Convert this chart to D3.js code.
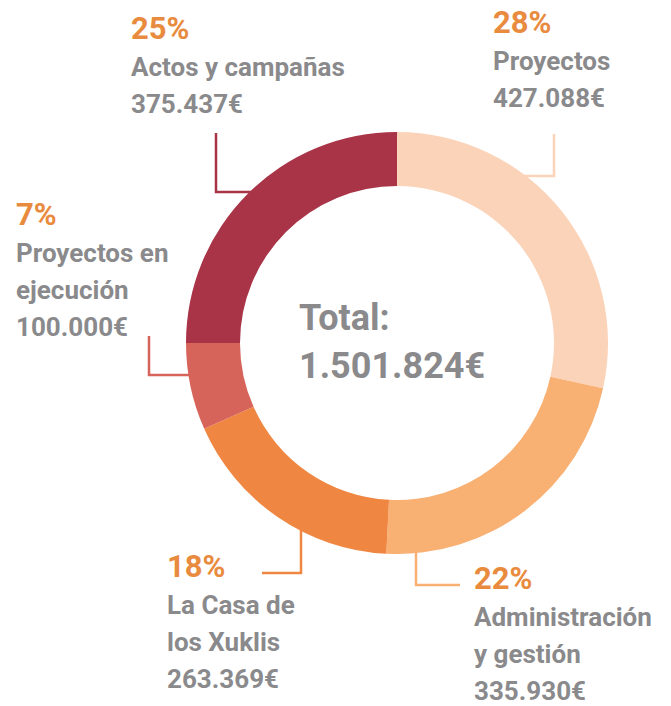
<!doctype html>
<html>
<head>
<meta charset="utf-8">
<title>Presupuesto</title>
<style>
  body { margin:0; background:#fff; }
  svg { display:block; }
  text { font-family: Roboto, "Open Sans", sans-serif; font-weight:700; }
  .pct { fill:#e98b3e; font-size:31px; }
  .lbl { fill:#8a8a8c; font-size:26px; }
  .total { fill:#8a8a8c; font-size:36px; }
</style>
<script src="https://d3js.org/d3.v7.min.js"></script>
</head>
<body>
<svg id="chart" width="671" height="706"></svg>
<script>

// datos
var categories = ["Proyectos", "Administración y gestión", "La Casa de los Xuklis", "Proyectos en ejecución", "Actos y campañas"]
var nameLines = [["Proyectos"], ["Administración", "y gestión"], ["La Casa de", "los Xuklis"], ["Proyectos en", "ejecución"], ["Actos y campañas"]]
var amounts = [427088, 335930, 263369, 100000, 375437]
var colors = ["#fbd3b9", "#f9b073", "#ef8641", "#d6645a", "#a93447"]

// posiciones de etiquetas y líneas guía
var labelPos = [[493, 33], [474, 589], [167, 577], [16, 225], [131, 39]]
var leaders = [
  [[554, 134], [554, 176], [500, 176]],
  [[416, 530], [416, 585], [460, 585]],
  [[301, 520], [301, 573], [262, 573]],
  [[149, 336], [149, 375], [200, 375]],
  [[216, 133], [216, 192], [260, 192]]
]
var lineH = 37

var cx = 397, cy = 343
var svg = d3.select("#chart")

var es = d3.formatLocale({ decimal: ",", thousands: ".", grouping: [3], currency: ["", "€"] })
var euro = es.format("$,.0f")
var total = d3.sum(amounts)

// lineas guia (debajo del anillo)
var line = d3.line()
svg.append("g").selectAll("path")
   .data(leaders)
   .enter()
   .append("path")
   .attr("d", function(d){ return line(d) })
   .attr("fill", "none")
   .attr("stroke", function(d,i){ return colors[i] })
   .attr("stroke-width", 2.5)

// anillo
var pie = d3.pie().sort(null).value(function(d){ return d })
var arc = d3.arc().innerRadius(157).outerRadius(211)

svg.append("g")
   .attr("transform", "translate(" + cx + "," + cy + ")")
   .selectAll("path")
   .data(pie(amounts))
   .enter()
   .append("path")
   .attr("d", arc)
   .attr("fill", function(d,i){ return colors[i] })

// total
svg.append("text").attr("class", "total").attr("x", 299).attr("y", 330).text("Total:")
svg.append("text").attr("class", "total").attr("x", 299).attr("y", 378).text(euro(total))

// etiquetas
var labels = svg.append("g").selectAll("g")
   .data(amounts)
   .enter()
   .append("g")
   .attr("transform", function(d,i){ return "translate(" + labelPos[i][0] + "," + labelPos[i][1] + ")" })

labels.append("text")
   .attr("class", "pct")
   .text(function(d){ return Math.round(d / total * 100) + "%" })

labels.each(function(d,i){
  var g = d3.select(this)
  var rows = nameLines[i].concat([euro(d)])
  rows.forEach(function(r, k){
    g.append("text")
     .attr("class", "lbl")
     .attr("y", (k + 1) * lineH)
     .text(r)
  })
})

</script>
</body>
</html>
